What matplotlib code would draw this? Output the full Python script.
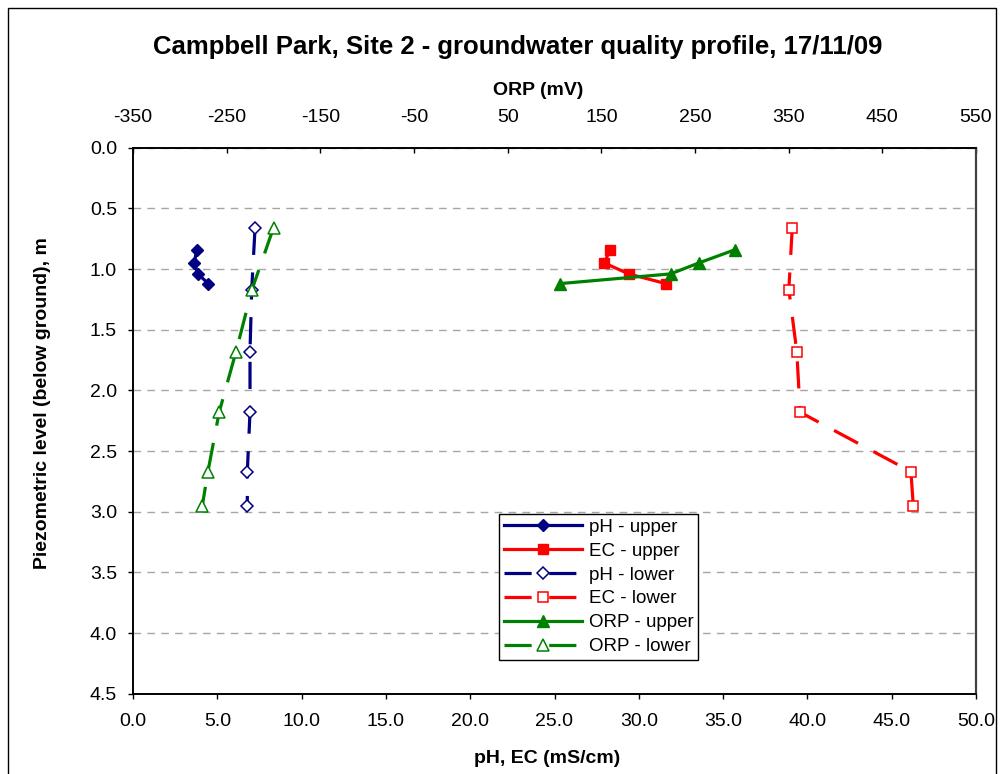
import numpy as np
import matplotlib
matplotlib.use("Agg")
import matplotlib.pyplot as plt
import matplotlib.patches as mpatches
from matplotlib.ticker import FormatStrFormatter, MultipleLocator

plt.rcParams['font.family'] = ['Liberation Sans', 'DejaVu Sans']
plt.rcParams['axes.unicode_minus'] = False

# depths (m below ground)
depth_upper = [0.84, 0.95, 1.04, 1.12]
depth_lower = [0.66, 1.17, 1.68, 2.18, 2.67, 2.95]

# upper piezometer
ph_upper = [3.78, 3.64, 3.84, 4.47]
ec_upper = [28.3, 27.95, 29.4, 31.6]
orp_upper = [293, 254, 224, 106]

# lower piezometer
ph_lower = [7.24, 7.04, 6.94, 6.94, 6.78, 6.78]
ec_lower = [39.1, 38.9, 39.37, 39.57, 46.14, 46.28]
orp_lower = [-200, -223, -240, -258, -270, -276]

W, H = 1001, 774
fig = plt.figure(figsize=(W / 100, H / 100), dpi=100)

def fx(px):
    return px / W

def fy(py):
    return 1 - py / H

left, right, top, bottom = 133, 976, 147.7, 693.7
ax = fig.add_axes([fx(left), fy(bottom), fx(right - left), (bottom - top) / H])
ax2 = ax.twiny()

navy = '#000080'
red = '#ff0000'
green = '#008000'
lw = 2.3
dash = (8.5, 5.5)

l1, = ax.plot(ph_upper, depth_upper, color=navy, lw=lw, marker='D', ms=6,
              mfc=navy, mec=navy, label='pH - upper')
l2, = ax.plot(ec_upper, depth_upper, color=red, lw=lw, marker='s', ms=7.3,
              mfc=red, mec=red, label='EC - upper')
l3, = ax.plot(ph_lower, depth_lower, color=navy, lw=lw, dashes=dash, marker='D', ms=6,
              mfc='white', mec=navy, mew=1.1, label='pH - lower')
l4, = ax.plot(ec_lower, depth_lower, color=red, lw=lw, dashes=dash, marker='s', ms=7.3,
              mfc='white', mec=red, mew=1.1, label='EC - lower')
l5, = ax2.plot(orp_upper, depth_upper, color=green, lw=lw, marker='^', ms=8.3,
               mfc=green, mec=green, label='ORP - upper')
l6, = ax2.plot(orp_lower, depth_lower, color=green, lw=lw, dashes=dash, marker='^', ms=8.3,
               mfc='white', mec=green, mew=1.1, label='ORP - lower')

ax.set_xlim(0, 50)
ax.set_ylim(4.5, 0)
ax2.set_xlim(-350, 550)
ax2.set_ylim(4.5, 0)

ax.xaxis.set_major_locator(MultipleLocator(5))
ax.yaxis.set_major_locator(MultipleLocator(0.5))
ax.xaxis.set_major_formatter(FormatStrFormatter('%.1f'))
ax.yaxis.set_major_formatter(FormatStrFormatter('%.1f'))
ax2.set_xticks(np.arange(-350, 551, 100))

ax.tick_params(axis='x', direction='out', length=3.6, width=1, pad=10, labelsize=14, top=False)
ax.tick_params(axis='y', direction='out', length=3.6, width=1, pad=8, labelsize=14)
ax2.tick_params(axis='x', direction='in', length=3.6, width=1, pad=15.6, labelsize=14)

ax.yaxis.grid(True, color='#a6a6a6', lw=1, linestyle=(0, (5.5, 4.5)))
ax.set_axisbelow(True)

for a in (ax, ax2):
    for s in ('left', 'bottom', 'top'):
        a.spines[s].set_color('black')
        a.spines[s].set_linewidth(1.2)
    a.spines['right'].set_color('#404040')
    a.spines['right'].set_linewidth(1.5)

fig.text(fx(518), fy(54), 'Campbell Park, Site 2 - groundwater quality profile, 17/11/09',
         ha='center', va='baseline', fontsize=18.5, fontweight='bold')
fig.text(fx(538), fy(95), 'ORP (mV)', ha='center', va='baseline', fontsize=14, fontweight='bold')
fig.text(fx(547), fy(763), 'pH, EC (mS/cm)', ha='center', va='baseline', fontsize=14, fontweight='bold')
fig.text(fx(43), fy(403), 'Piezometric level (below ground), m', ha='center', va='center',
         rotation=90, fontsize=14, fontweight='bold')

leg = ax2.legend(handles=[l1, l2, l3, l4, l5, l6], loc='upper left',
                 bbox_to_anchor=(fx(499), fy(514)), bbox_transform=fig.transFigure,
                 fontsize=13.5, frameon=True, fancybox=False, framealpha=1,
                 edgecolor='black', borderpad=0.25, borderaxespad=0,
                 handlelength=4.2, handletextpad=0.35, labelspacing=0.36)
leg.get_frame().set_linewidth(1)

fig.patches.append(mpatches.Rectangle((fx(8), -0.05), fx(996 - 8), fy(8) + 0.05,
                                      transform=fig.transFigure, fill=False,
                                      edgecolor='black', lw=1))

fig.savefig('out.png', dpi=100)
